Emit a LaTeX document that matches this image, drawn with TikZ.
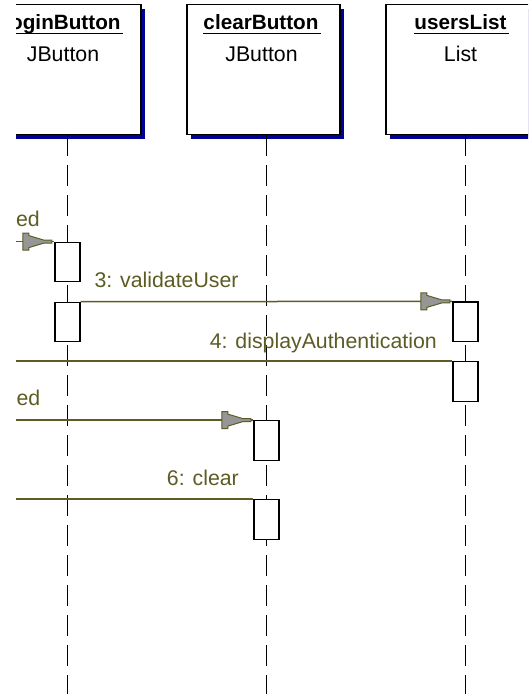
\documentclass[tikz,border=0pt]{standalone}
\usepackage{fontspec}
\setmainfont{Liberation Sans}
\usetikzlibrary{shadows}
\definecolor{msgcol}{RGB}{92,92,36}
\definecolor{shadowblue}{RGB}{0,0,150}
\definecolor{headgray}{RGB}{150,150,150}
\begin{document}
\begin{tikzpicture}[x=1pt,y=-1pt,
  objbox/.style={draw=black, line width=1.5pt, fill=white, minimum width=153pt, minimum height=130pt, inner sep=0pt,
    drop shadow={shadow xshift=4pt, shadow yshift=-4pt, fill=shadowblue, opacity=1}},
  objname/.style={font=\fontsize{20.7}{24}\selectfont\bfseries, anchor=base, inner sep=0pt},
  objclass/.style={font=\fontsize{21.3}{24}\selectfont, anchor=base, inner sep=0pt},
  lifeline/.style={draw=black, line width=1.3pt, dash pattern=on 21pt off 9pt},
  act/.style={draw=black, line width=1.3pt, fill=white, minimum width=25pt, minimum height=39.5pt, inner sep=0pt},
  msg/.style={draw=msgcol, line width=1.5pt},
  msglabel/.style={text=msgcol, font=\fontsize{21.3}{24}\selectfont, inner sep=0pt},
  uline/.style={draw=black, line width=1.4pt},
  rosehead/.pic={
    \filldraw[fill=headgray, draw=msgcol, line width=1pt, line join=miter]
      (0,1.5) -- (-8,1.5) -- (-23,6) -- (-23,8.5) -- (-29,8.5) -- (-29,-8.5) -- (-23,-8.5) -- (-23,-6) -- (-8,-1.5) -- (0,-1.5) -- cycle;
  }
]
\useasboundingbox (0,0) rectangle (528,694);
\fill[white] (0,0) rectangle (528,694);
\begin{scope}
\clip (16,0) rectangle (528,694);

% lifeline ends
\coordinate (loginEnd) at (67.5,700);
\coordinate (clearEnd) at (266.5,700);
\coordinate (usersEnd) at (465.5,700);
\coordinate (edge) at (0,0);

% object boxes
\node[objbox] (login) at (64.5,69.5) {};
\node[objbox] (clear) at (263.5,69.5) {};
\node[objbox] (users) at (462.5,69.5) {};

% lifelines
\draw[lifeline] (login.south -| loginEnd) -- (loginEnd);
\draw[lifeline] (clear.south -| clearEnd) -- (clearEnd);
\draw[lifeline] (users.south -| usersEnd) -- (usersEnd);

% titles
\node[objname] (loginT) at (62.5,29.6) {loginButton};
\node[objname] (clearT) at (261,29.6) {clearButton};
\node[objname] (usersT) at (460.5,29.6) {usersList};
\draw[uline] ([yshift=-4pt]loginT.base west) -- ([yshift=-4pt,xshift=2pt]loginT.base east);
\draw[uline] ([yshift=-4pt]clearT.base west) -- ([yshift=-4pt,xshift=2pt]clearT.base east);
\draw[uline] ([yshift=-4pt]usersT.base west) -- ([yshift=-4pt,xshift=2pt]usersT.base east);
\node[objclass] (loginC) at (63,61.6) {JButton};
\node[objclass] (clearC) at (261.5,61.6) {JButton};
\node[objclass] (usersC) at (460.5,61.6) {List};

% activations (positions)
\coordinate (pla1) at (67.5,262);
\coordinate (pla2) at (67.5,322);
\coordinate (pua1) at (465.5,321.8);
\coordinate (pua2) at (465.5,381.5);
\coordinate (pca1) at (266.5,440.5);
\coordinate (pca2) at (266.5,519.5);
\path (pla1) node[act, draw=none, fill=none] (la1) {}
      (pla2) node[act, draw=none, fill=none] (la2) {}
      (pua1) node[act, draw=none, fill=none] (ua1) {}
      (pua2) node[act, draw=none, fill=none] (ua2) {}
      (pca1) node[act, draw=none, fill=none] (ca1) {}
      (pca2) node[act, draw=none, fill=none] (ca2) {};

% messages
\draw[msg] (edge |- la1.north west) -- (la1.north west);
\draw[msg] (la2.north east) -- (ua1.north west);
\draw[msg] (ua2.north west) -- (edge |- ua2.north west);
\draw[msg] (edge |- ca1.north west) -- (ca1.north west);
\draw[msg] (ca2.north west) -- (edge |- ca2.north west);

\pic at ([xshift=-2.5pt]la1.north west) {rosehead};
\pic at ([xshift=-2.5pt]ua1.north west) {rosehead};
\pic at ([xshift=-2.5pt]ca1.north west) {rosehead};

% activation boxes drawn on top
\node[act] (la1b) at (la1) {};
\node[act] (la2b) at (la2) {};
\node[act] (ua1b) at (ua1) {};
\node[act] (ua2b) at (ua2) {};
\node[act] (ca1b) at (ca1) {};
\node[act] (ca2b) at (ca2) {};

% labels
\node[msglabel, anchor=base east] (l2) at (40,226.7) {ed};
\node[msglabel, anchor=base west] (l3) at (94.3,287.5) {3: validateUser};
\node[msglabel, anchor=base east] (l4) at (437,348) {4: displayAuthentication};
\node[msglabel, anchor=base east] (l5) at (40.4,405) {ed};
\node[msglabel, anchor=base east] (l6) at (239,485.5) {6: clear};
\end{scope}
\end{tikzpicture}
\end{document}
